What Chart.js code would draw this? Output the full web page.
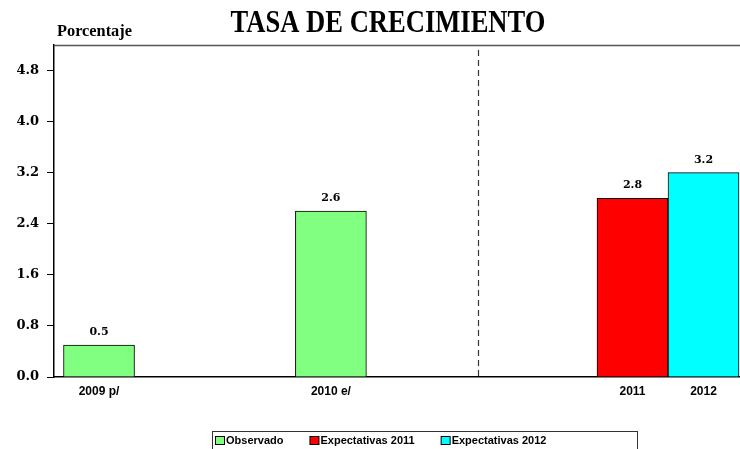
<!DOCTYPE html>
<html>
<head>
<meta charset="utf-8">
<script src="https://cdn.jsdelivr.net/npm/chart.js@4/dist/chart.umd.min.js"></script>
<style>
  html, body { margin: 0; padding: 0; background: #fff; }
  canvas { display: block; }
</style>
</head>
<body>
<canvas id="c" width="740" height="449"></canvas>
<script>
// ---- data ----
const categories = ['2009 p/', '2010 e/', '2011', '2012'];
const observado = [0.5, 2.6, null, null];
const expectativas2011 = [null, null, 2.8, null];
const expectativas2012 = [null, null, null, 3.2];
const seriesNames = ['Observado', 'Expectativas 2011', 'Expectativas 2012'];
const yTicks = [0, 0.8, 1.6, 2.4, 3.2, 4.0, 4.8];
const titleText = 'TASA DE CRECIMIENTO';
const unitText = 'Porcentaje';

// ---- layout (positions on the x axis, in bar-width units) ----
const slots = [0.634, 3.90, 8.148, 9.148];
const xMax = 9.662;
const dividerAt = 5.97;

function toPoints(arr) {
  return arr.map((v, i) => (v === null ? null : { x: slots[i], y: v })).filter(p => p);
}

const framePlugin = {
  id: 'frame',
  beforeDatasetsDraw(chart) {
    const { ctx, chartArea: a, scales } = chart;
    ctx.save();
    ctx.strokeStyle = '#555';
    ctx.lineWidth = 1.5;
    ctx.beginPath();
    ctx.moveTo(a.left, a.top + 0.5);
    ctx.lineTo(a.right, a.top + 0.5);
    ctx.stroke();
    const x = Math.round(scales.x.getPixelForValue(dividerAt)) + 0.5;
    ctx.strokeStyle = '#333';
    ctx.lineWidth = 1.2;
    ctx.setLineDash([6, 4]);
    ctx.beginPath();
    ctx.moveTo(x, a.top + 5);
    ctx.lineTo(x, a.bottom);
    ctx.stroke();
    ctx.restore();
  },
  afterDatasetsDraw(chart) {
    const { ctx } = chart;
    ctx.save();
    ctx.fillStyle = '#000';
    ctx.font = 'bold 11px "DejaVu Serif"';
    ctx.textAlign = 'center';
    ctx.textBaseline = 'alphabetic';
    chart.data.datasets.forEach((ds, di) => {
      const meta = chart.getDatasetMeta(di);
      meta.data.forEach((el, i) => {
        const v = ds.data[i].y;
        ctx.fillText(v.toFixed(1), el.x, el.y - 10);
      });
    });
    ctx.restore();
  },
  afterDraw(chart) {
    const { ctx } = chart;
    ctx.save();
    ctx.fillStyle = '#000';
    ctx.textBaseline = 'alphabetic';
    ctx.textAlign = 'center';
    ctx.font = 'bold 32px "Liberation Serif"';
    ctx.save();
    ctx.translate(388, 32);
    ctx.scale(0.83, 1);
    ctx.fillText(titleText, 0, 0);
    ctx.restore();
    ctx.textAlign = 'left';
    ctx.font = 'bold 17px "Liberation Serif"';
    ctx.save();
    ctx.translate(57, 36);
    ctx.scale(0.96, 1);
    ctx.fillText(unitText, 0, 0);
    ctx.restore();
    // legend
    ctx.strokeStyle = '#333';
    ctx.lineWidth = 1;
    ctx.strokeRect(212.5, 431.5, 425, 30);
    ctx.font = 'bold 11px "Liberation Sans"';
    ctx.textBaseline = 'middle';
    let lx = 215;
    const ly = 441;
    chart.data.datasets.forEach((ds) => {
      ctx.fillStyle = ds.backgroundColor;
      ctx.fillRect(lx + 0.5, ly - 4.5, 9, 8);
      ctx.strokeStyle = '#000';
      ctx.strokeRect(lx + 0.5, ly - 4.5, 9, 8);
      ctx.fillStyle = '#000';
      ctx.fillText(ds.label, lx + 11, ly);
      lx += 11 + ctx.measureText(ds.label).width + 26;
    });
    ctx.restore();
  }
};

new Chart(document.getElementById('c'), {
  type: 'bar',
  data: {
    datasets: [
      { label: seriesNames[0], data: toPoints(observado), backgroundColor: '#80FF80', borderColor: '#000', borderWidth: 1 },
      { label: seriesNames[1], data: toPoints(expectativas2011), backgroundColor: '#FF0000', borderColor: '#000', borderWidth: 1 },
      { label: seriesNames[2], data: toPoints(expectativas2012), backgroundColor: '#00FFFF', borderColor: '#000', borderWidth: 1 }
    ]
  },
  options: {
    responsive: false,
    animation: false,
    layout: { padding: { top: 45, left: 0, right: 0, bottom: 0 } },
    datasets: { bar: { barPercentage: 1, categoryPercentage: 1 } },
    plugins: { legend: { display: false }, title: { display: false }, tooltip: { enabled: false } },
    scales: {
      x: {
        type: 'linear',
        min: 0,
        max: xMax,
        offset: false,
        stacked: true,
        afterBuildTicks(scale) { scale.ticks = slots.map(v => ({ value: v })); },
        afterFit(scale) { scale.height = 72; },
        grid: { display: false, drawTicks: false, offset: false },
        border: { display: true, color: '#000', width: 1.5 },
        ticks: {
          autoSkip: false,
          maxRotation: 0,
          padding: 7,
          color: '#000',
          font: { family: '"Liberation Sans"', weight: 'bold', size: 12 },
          callback: (v, i) => categories[i]
        }
      },
      y: {
        min: 0,
        max: 5.2,
        afterBuildTicks(scale) { scale.ticks = yTicks.map(v => ({ value: v })); },
        afterFit(scale) { scale.width = 54; },
        grid: { drawOnChartArea: false, drawTicks: true, tickLength: 7, color: '#000', lineWidth: 1 },
        border: { display: true, color: '#000', width: 1.5 },
        ticks: {
          padding: 8,
          color: '#000',
          font: { family: '"DejaVu Serif"', weight: 'bold', size: 13 },
          callback: v => Number(v).toFixed(1)
        }
      }
    }
  },
  plugins: [framePlugin]
});
</script>
</body>
</html>
